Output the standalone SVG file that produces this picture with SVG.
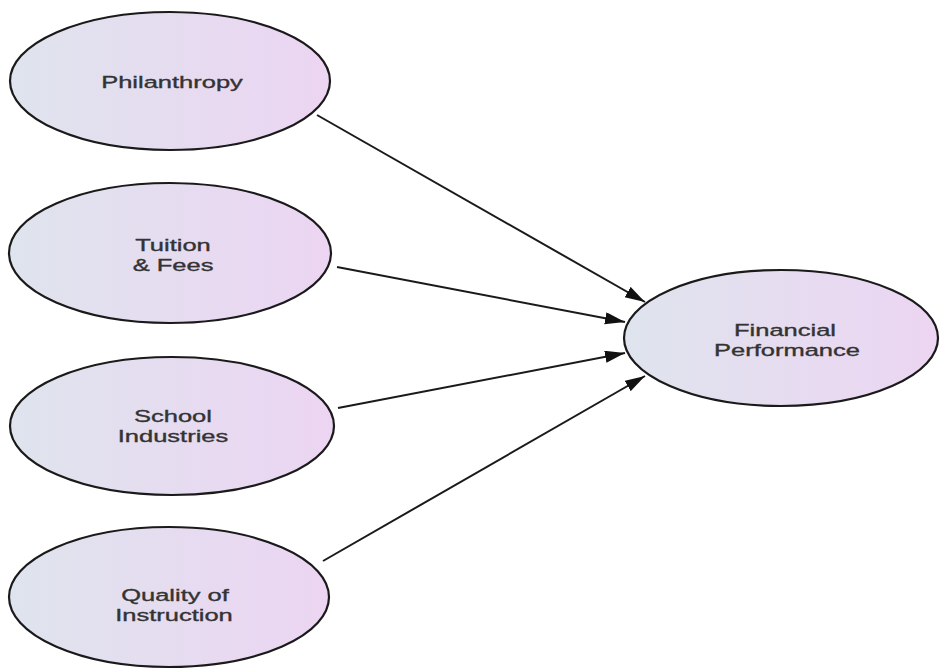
<svg xmlns="http://www.w3.org/2000/svg" width="940" height="671" viewBox="0 0 940 671">
<defs>
<linearGradient id="g" x1="0" y1="0" x2="1" y2="0">
<stop offset="0" stop-color="#dfe4ee"/>
<stop offset="1" stop-color="#ecd5f2"/>
</linearGradient>
<marker id="ah" markerUnits="userSpaceOnUse" markerWidth="22" markerHeight="14" refX="20" refY="6" orient="auto">
<path d="M0,0 L20,6 L0,12 z" fill="#111"/>
</marker>
<style>
.n ellipse{fill:url(#g);stroke:#1a1a1a;stroke-width:2.2}
.n text{font-family:"Liberation Sans",Arial,sans-serif;font-size:17px;fill:#333;stroke:#333;stroke-width:0.35;text-anchor:middle}
.c line{stroke:#1a1a1a;stroke-width:2;marker-end:url(#ah)}
</style>
</defs>
<rect width="940" height="671" fill="#fff"/>
<g class="c" id="connectors">
<line x1="317" y1="115" x2="645" y2="302"/>
<line x1="337" y1="267" x2="625" y2="322"/>
<line x1="338" y1="408" x2="625" y2="353"/>
<line x1="323" y1="561" x2="645" y2="376"/>
</g>
<g class="n" id="philanthropy">
<ellipse cx="170" cy="81" rx="160" ry="69"/>
<text transform="translate(172,88) scale(1.5,1)">Philanthropy</text>
</g>
<g class="n" id="tuition">
<ellipse cx="170" cy="253" rx="161" ry="70"/>
<text transform="translate(173,251) scale(1.5,1)">Tuition</text>
<text transform="translate(173,271) scale(1.5,1)">&amp; Fees</text>
</g>
<g class="n" id="school">
<ellipse cx="172" cy="426" rx="162" ry="69"/>
<text transform="translate(173,422) scale(1.5,1)">School</text>
<text transform="translate(173,442) scale(1.5,1)">Industries</text>
</g>
<g class="n" id="quality">
<ellipse cx="169" cy="597" rx="160" ry="70"/>
<text transform="translate(175,601) scale(1.5,1)">Quality of</text>
<text transform="translate(174,621) scale(1.5,1)">Instruction</text>
</g>
<g class="n" id="financial">
<ellipse cx="781" cy="338" rx="157" ry="68"/>
<text transform="translate(785,336) scale(1.5,1)">Financial</text>
<text transform="translate(787,356) scale(1.5,1)">Performance</text>
</g>
</svg>
